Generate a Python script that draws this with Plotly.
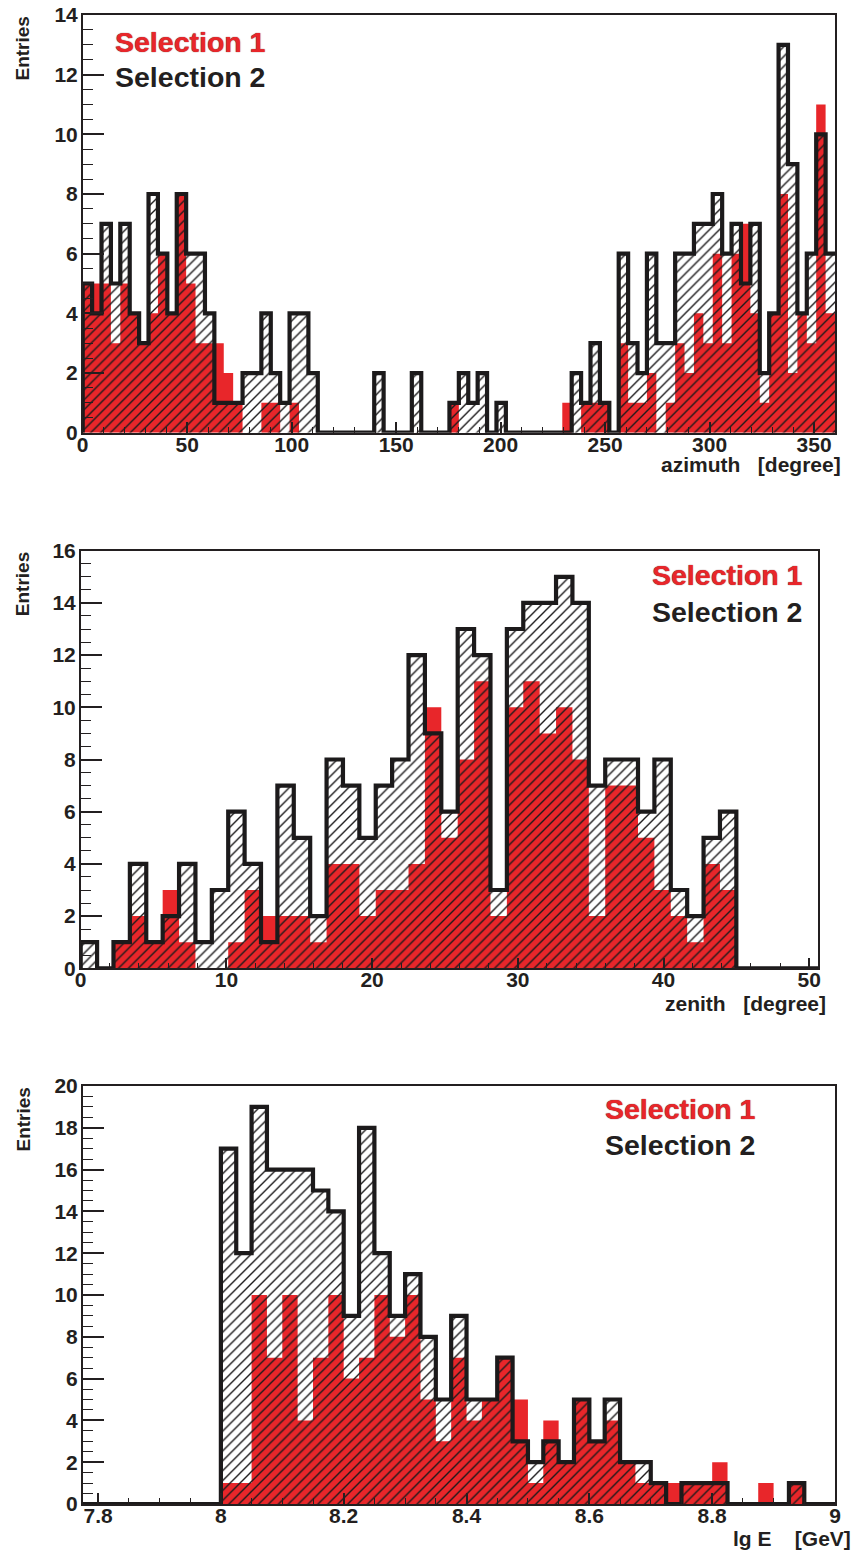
import numpy as np
import plotly.graph_objects as go

# ---------------- data (bin contents) ----------------
AZ_RANGE = (0.0, 360.0)          # 80 bins of 4.5 degree
az_sel1 = [5, 5, 5, 3, 5, 4, 3, 4, 6, 4, 8, 5, 3, 3, 3, 2, 1, 0, 0, 1,
           1, 0, 1, 0, 0, 0, 0, 0, 0, 0, 0, 0, 0, 0, 0, 0, 0, 0, 0, 1,
           0, 0, 0, 0, 0, 0, 0, 0, 0, 0, 0, 1, 0, 1, 1, 1, 0, 3, 1, 1,
           2, 0, 1, 3, 2, 4, 3, 6, 3, 6, 7, 4, 1, 4, 8, 2, 4, 3, 11, 4]
az_sel2 = [5, 4, 7, 5, 7, 4, 3, 8, 6, 4, 8, 6, 6, 4, 1, 1, 1, 2, 2, 4,
           2, 1, 4, 4, 2, 0, 0, 0, 0, 0, 0, 2, 0, 0, 0, 2, 0, 0, 0, 1,
           2, 1, 2, 0, 1, 0, 0, 0, 0, 0, 0, 0, 2, 1, 3, 1, 0, 6, 3, 2,
           6, 3, 3, 6, 6, 7, 7, 8, 6, 7, 5, 7, 2, 4, 13, 9, 4, 6, 10, 6]

ZEN_RANGE = (0.0, 50.625)        # 45 bins of 1.125 degree
zen_sel1 = [0, 0, 1, 2, 1, 3, 1, 0, 0, 1, 3, 2, 2, 2, 1, 4, 4, 2, 3, 3,
            4, 10, 5, 8, 11, 2, 10, 11, 9, 10, 8, 2, 7, 7, 5, 3, 2, 1, 4, 3,
            0, 0, 0, 0, 0]
zen_sel2 = [1, 0, 1, 4, 1, 2, 4, 1, 3, 6, 4, 1, 7, 5, 2, 8, 7, 5, 7, 8,
            12, 9, 6, 13, 12, 3, 13, 14, 14, 15, 14, 7, 8, 8, 6, 8, 3, 2, 5, 6,
            0, 0, 0, 0, 0]

LGE_RANGE = (7.775, 9.0)         # 49 bins of 0.025
lge_sel1 = [0, 0, 0, 0, 0, 0, 0, 0, 0,
            1, 1, 10, 7, 10, 4, 7, 10, 6, 7, 10, 8, 10, 5, 3, 7, 4, 5, 7, 5,
            1, 4, 2, 5, 3, 4, 2, 1, 1, 1, 1, 1, 2, 0, 0, 1, 0, 1, 0, 0]
lge_sel2 = [0, 0, 0, 0, 0, 0, 0, 0, 0,
            17, 12, 19, 16, 16, 16, 15, 14, 9, 18, 12, 9, 11, 8, 5, 9, 5, 5, 7, 3,
            2, 3, 2, 5, 3, 5, 2, 2, 1, 0, 1, 1, 1, 0, 0, 0, 0, 1, 0, 0]

lge_tickvals = [7.8, 8.0, 8.2, 8.4, 8.6, 8.8, 9.0]
lge_ticktext = ["7.8", "8", "8.2", "8.4", "8.6", "8.8", "9"]

legend_labels = ["Selection 1", "Selection 2"]
x_titles = ["azimuth\u00a0\u00a0\u00a0[degree]",
            "zenith\u00a0\u00a0\u00a0[degree]",
            "lg E\u00a0\u00a0\u00a0\u00a0[GeV]"]
y_title = "Entries"

# ---------------- styling ----------------
W, H = 857, 1551
RED = "#e8262a"
INK = "#231f20"
FONT = "Liberation Sans"


def px_x(px):
    return px / W


def px_y(py):
    return 1 - py / H


def step(rng, counts):
    edges = np.linspace(rng[0], rng[1], len(counts) + 1)
    x = [edges[0]] + list(edges)
    y = [0] + list(counts) + [counts[-1]]
    return x, y


# panel frames in pixels: left, right, top, bottom
frames = [
    (82.7, 835.0, 15.0, 432.7),
    (80.7, 818.3, 550.7, 968.3),
    (82.7, 835.0, 1086.0, 1504.0),
]

panels = [
    dict(rng=AZ_RANGE, s1=az_sel1, s2=az_sel2, ymax=14, xdt=50, xminor=10),
    dict(rng=ZEN_RANGE, s1=zen_sel1, s2=zen_sel2, ymax=16, xdt=10, xminor=2),
    dict(rng=LGE_RANGE, s1=lge_sel1, s2=lge_sel2, ymax=20, xdt=None, xminor=0.05),
]

fig = go.Figure()
layout = dict(width=W, height=H, margin=dict(l=0, r=0, t=0, b=0, autoexpand=False),
              paper_bgcolor="white", plot_bgcolor="white", showlegend=False)

tickfont = dict(family=FONT, size=21, color=INK, weight="bold")

for i, (p, fr) in enumerate(zip(panels, frames)):
    n = "" if i == 0 else str(i + 1)
    xa, ya = "x" + n, "y" + n
    x1, y1 = step(p["rng"], p["s1"])
    x2, y2 = step(p["rng"], p["s2"])
    fig.add_trace(go.Scatter(
        x=x1, y=y1, mode="lines", line=dict(width=0, shape="hv", color=RED),
        fill="tozeroy", fillcolor=RED, xaxis=xa, yaxis=ya, hoverinfo="skip"))
    fig.add_trace(go.Scatter(
        x=x2, y=y2, mode="lines", line=dict(width=4.2, shape="hv", color="#1c1a1b"),
        fill="tozeroy", fillcolor="rgba(0,0,0,0)",
        fillpattern=dict(shape="/", fgcolor="#1c1a1b", bgcolor="rgba(0,0,0,0)",
                         size=7, solidity=0.2, fillmode="replace"),
        xaxis=xa, yaxis=ya, hoverinfo="skip"))

    l, r, t, b = fr
    xaxis = dict(domain=[px_x(l), px_x(r)], anchor=ya, range=list(p["rng"]),
                 automargin=False, ticklabelstandoff=-8,
                 ticks="inside", ticklen=11, tickwidth=1.5, tickcolor=INK,
                 showline=True, mirror=True, linecolor=INK, linewidth=1.5,
                 showgrid=False, zeroline=False, tickfont=tickfont,
                 minor=dict(ticks="inside", ticklen=6, tickwidth=1.2, tickcolor=INK,
                            showgrid=False, tickmode="linear", tick0=0 if p["xdt"] else 7.8,
                            dtick=p["xminor"]))
    if p["xdt"]:
        xaxis.update(tickmode="linear", tick0=0, dtick=p["xdt"])
    else:
        xaxis.update(tickmode="array", tickvals=lge_tickvals, ticktext=lge_ticktext)
    yaxis = dict(domain=[px_y(b), px_y(t)], anchor=xa, range=[0, p["ymax"]],
                 automargin=False, ticklabelstandoff=-1,
                 tickmode="linear", tick0=0, dtick=2,
                 ticks="inside", ticklen=22, tickwidth=1.5, tickcolor=INK,
                 showline=True, mirror=True, linecolor=INK, linewidth=1.5,
                 showgrid=False, zeroline=False, tickfont=tickfont,
                 minor=dict(ticks="inside", ticklen=11, tickwidth=1.2, tickcolor=INK,
                            showgrid=False, tickmode="linear", tick0=0, dtick=0.5))
    layout["xaxis" + n] = xaxis
    layout["yaxis" + n] = yaxis

fig.update_layout(**layout)

ann = []
# y titles
for fr in frames:
    ann.append(dict(text=y_title, x=px_x(22.5), y=px_y(fr[2]), xref="paper", yref="paper",
                    xanchor="center", yanchor="top", textangle=-90, showarrow=False,
                    font=dict(family=FONT, size=19, color=INK, weight="bold")))
# x titles
for txt, (xr, yc) in zip(x_titles, [(841.7, 465.0), (826.7, 1003.0), (851.7, 1538.0)]):
    ann.append(dict(text=txt, x=px_x(xr), y=px_y(yc), xref="paper", yref="paper",
                    xanchor="right", yanchor="middle", showarrow=False, borderpad=0,
                    font=dict(family=FONT, size=21, color=INK, weight="bold")))
# legend texts
for (xl, yc1, yc2) in [(113.3, 41.7, 76.7), (650.0, 575.0, 611.7), (603.3, 1109.3, 1145.0)]:
    ann.append(dict(text=legend_labels[0], x=px_x(xl), y=px_y(yc1), xref="paper", yref="paper",
                    xanchor="left", yanchor="middle", showarrow=False,
                    font=dict(family=FONT, size=28.5, color=RED, weight="bold",
                              shadow="0px 0px 1px #5a1010")))
    ann.append(dict(text=legend_labels[1], x=px_x(xl), y=px_y(yc2), xref="paper", yref="paper",
                    xanchor="left", yanchor="middle", showarrow=False,
                    font=dict(family=FONT, size=28.5, color=INK, weight="bold")))
fig.update_layout(annotations=ann)

fig.write_html("out.html")
